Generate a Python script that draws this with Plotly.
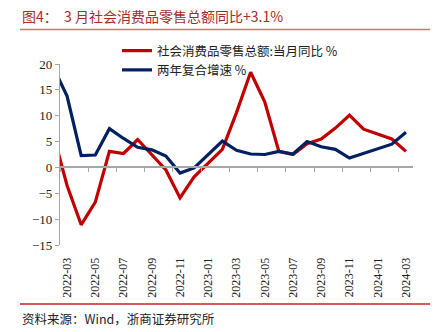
import plotly.graph_objects as go

# ---- data ----
months = ["2022-02", "2022-03", "2022-04", "2022-05", "2022-06", "2022-07", "2022-08",
          "2022-09", "2022-10", "2022-11", "2022-12", "2023-01", "2023-02", "2023-03",
          "2023-04", "2023-05", "2023-06", "2023-07", "2023-08", "2023-09", "2023-10",
          "2023-11", "2023-12", "2024-01", "2024-02", "2024-03"]
retail_yoy = [6.7, -3.5, -11.1, -6.7, 3.1, 2.7, 5.4, 2.5, -0.5, -5.9, -1.8, None, 3.5, 10.6,
              18.4, 12.7, 3.1, 2.5, 4.6, 5.5, 7.6, 10.1, 7.4, None, 5.5, 3.1]
two_year_cagr = [19.5, 13.8, 2.3, 2.4, 7.5, 5.6, 3.9, 3.4, 2.2, -1.1, -0.1, None, 5.1, 3.3,
                 2.6, 2.5, 3.1, 2.6, 5.0, 4.0, 3.5, 1.8, 2.7, None, 4.5, 6.8]
series_names = ["社会消费品零售总额:当月同比 %", "两年复合增速 %"]
title_text = "图4：  3 月社会消费品零售总额同比+3.1%"
source_text = "资料来源：Wind，浙商证券研究所"

idx = list(range(len(months)))
label_idx = [i for i in idx if i >= 1 and (i - 1) % 2 == 0]
label_txt = [months[i] for i in label_idx]
boundary_ticks = [i - 0.5 for i in label_idx]
xr = [0.5, len(months) - 0.5]

W, H = 447, 332
ML, MR, MT, MB = 60, 34, 64, 87
PW, PH = W - ML - MR, H - MT - MB


def px(x):
    return (x - ML) / PW


def py(y):
    return (H - MB - y) / PH


fig = go.Figure()
fig.add_trace(go.Scatter(x=idx, y=retail_yoy, mode="lines", name=series_names[0],
                         line=dict(color="#C00000", width=3.2), connectgaps=True))
fig.add_trace(go.Scatter(x=idx, y=two_year_cagr, mode="lines", name=series_names[1],
                         line=dict(color="#002060", width=3.2), connectgaps=True))
fig.add_trace(go.Scatter(x=[None], y=[None], xaxis="x2", showlegend=False, hoverinfo="skip"))

axis_col = "#A6A6A6"
fig.update_layout(
    width=W, height=H,
    margin=dict(l=ML, r=MR, t=MT, b=MB),
    paper_bgcolor="white", plot_bgcolor="white",
    showlegend=True,
    legend=dict(x=px(117), y=py(36), xanchor="left", yanchor="top",
                bgcolor="rgba(0,0,0,0)", font=dict(family="Noto Sans CJK SC", size=12.5, color="#222"),
                tracegroupgap=0),
    title=dict(text=title_text, xref="container", yref="container",
               x=22 / W, y=1 - 17 / H, xanchor="left", yanchor="middle",
               font=dict(family="Noto Sans CJK SC", size=14, color="#A52A2A")),
    xaxis=dict(range=xr, tickmode="array", tickvals=label_idx, ticktext=label_txt,
               tickangle=-90, showline=False, showgrid=False, zeroline=False,
               ticks="outside", ticklen=7, tickcolor="rgba(0,0,0,0)",
               tickfont=dict(family="Liberation Serif", size=12, color="#222")),
    xaxis2=dict(range=xr, overlaying="x", anchor="free", position=15 / 35, side="bottom",
                showline=True, linecolor=axis_col, linewidth=1.5, showgrid=False, zeroline=False,
                tickmode="array", tickvals=boundary_ticks, ticks="outside", ticklen=4,
                tickcolor=axis_col, showticklabels=False),
    yaxis=dict(range=[-15, 20], dtick=5, tick0=0, showline=True, linecolor=axis_col, linewidth=1.2,
               ticks="outside", ticklen=4, tickcolor=axis_col, showgrid=False, zeroline=False,
               tickfont=dict(family="Liberation Serif", size=13, color="#222")),
    shapes=[
        dict(type="line", xref="paper", yref="paper", x0=px(20), x1=px(430), y0=py(29.5), y1=py(29.5),
             line=dict(color="#E07070", width=1.5)),
        dict(type="line", xref="paper", yref="paper", x0=px(20), x1=px(430), y0=py(304), y1=py(304),
             line=dict(color="#D02020", width=1.5)),
    ],
    annotations=[
        dict(text=source_text, xref="paper", yref="paper", x=px(20), y=py(318),
             xanchor="left", yanchor="middle", showarrow=False,
             font=dict(family="Noto Sans CJK SC", size=12.5, color="#222")),
    ],
)

fig.write_html("out.html")
